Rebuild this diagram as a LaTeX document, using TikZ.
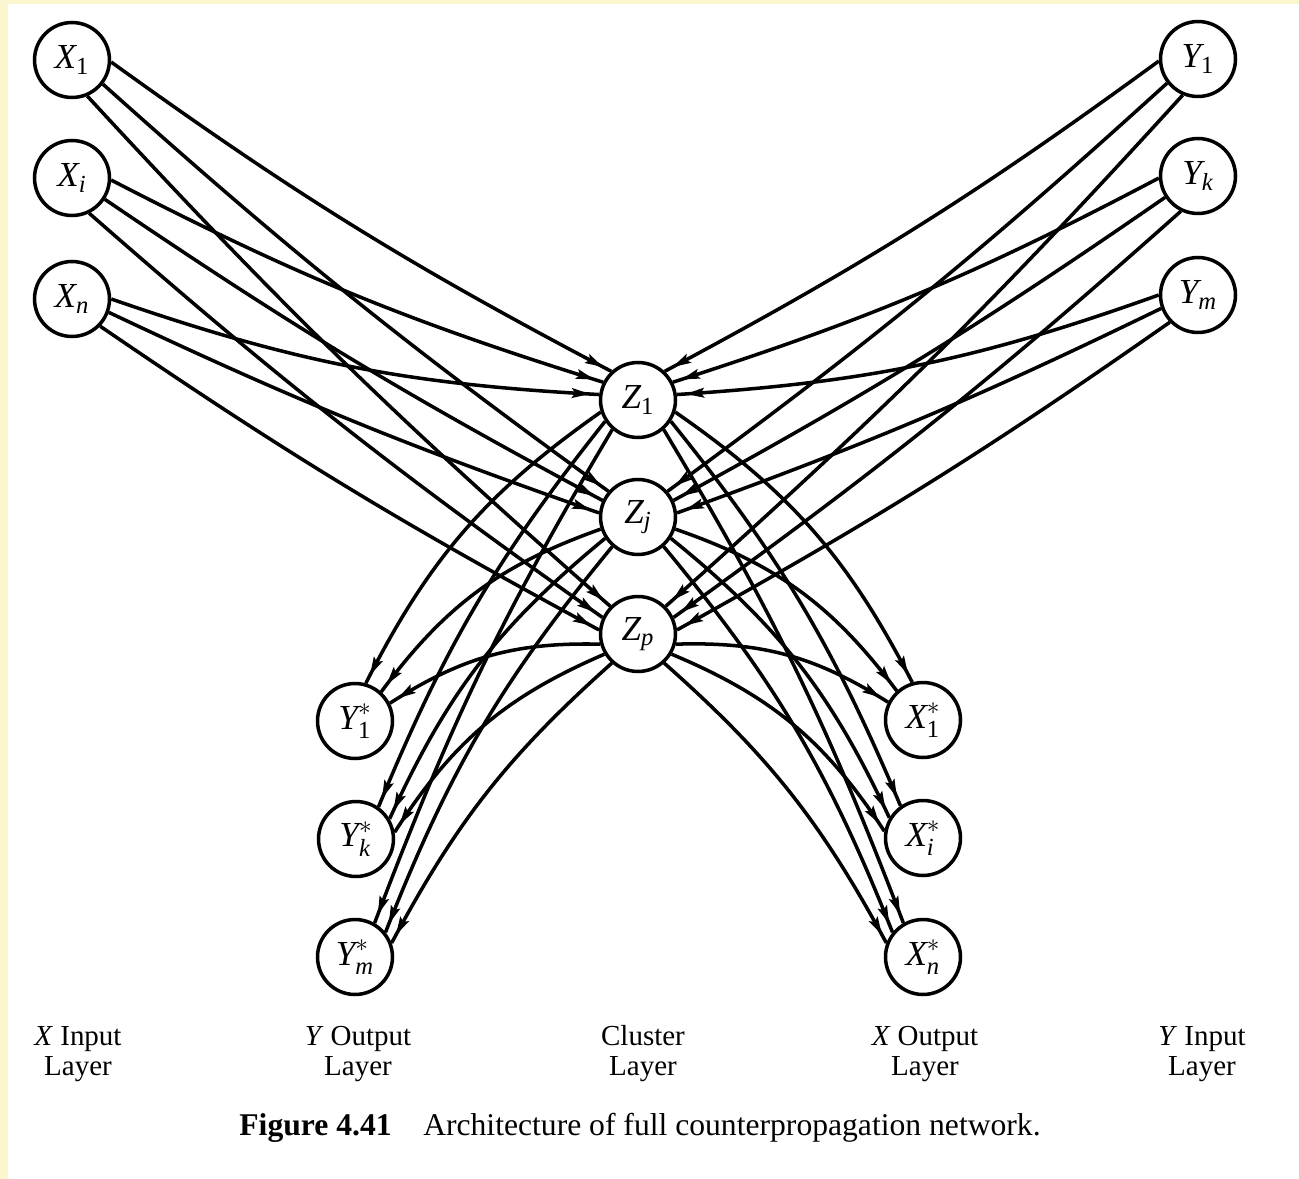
\documentclass[tikz,border=0pt]{standalone}
\usepackage{fontspec}
\usepackage{amsmath}
\setmainfont{Liberation Serif}
\usetikzlibrary{arrows.meta,decorations.markings}
\definecolor{scanyellow}{RGB}{252,246,206}
\tikzset{
  unit/.style={circle, draw, line width=2pt, minimum size=1.5cm, inner sep=0pt, font=\fontsize{20}{23}\selectfont},
  link/.style={line width=2pt, postaction={decorate},
    decoration={markings, mark=at position -0.18cm with {\arrow{Stealth[length=0.36cm,width=0.19cm,inset=0.06cm]}}}},
  lab/.style={align=center, font=\fontsize{16.5}{17}\selectfont},
}
\begin{document}
\begin{tikzpicture}[x=0.02cm,y=0.02cm]
\useasboundingbox (0,0) rectangle (1299,-1179);
\fill[white] (0,0) rectangle (1299,-1179);
\fill[scanyellow] (0,0) rectangle (8,-1179);
\fill[scanyellow] (0,0) rectangle (1299,-4);

% input layers
\node[unit] (X1) at (72,-60)  {$\textit{X}_{\textrm{1}}$};
\node[unit] (Xi) at (72,-178) {$\textit{X}_{\textit{i}}$};
\node[unit] (Xn) at (72,-299) {$\textit{X}_{\textit{n}}$};
\node[unit] (Y1) at (1198,-59)  {$\textit{Y}_{\textrm{1}}$};
\node[unit] (Yk) at (1198,-176) {$\textit{Y}_{\textit{k}}$};
\node[unit] (Ym) at (1198,-295) {$\textit{Y}_{\textit{m}}$};
% cluster layer
\node[unit] (Z1) at (638,-400) {$\textit{Z}_{\textrm{1}}$};
\node[unit] (Zj) at (638,-517) {$\textit{Z}_{\textit{j}}$};
\node[unit] (Zp) at (638,-634) {$\textit{Z}_{\textit{p}}$};
% output layers
\node[unit] (Y1s) at (355,-721) {$\textit{Y}_{\textrm{1}}^{*}$};
\node[unit] (Yks) at (356,-839) {$\textit{Y}_{\textit{k}}^{*}$};
\node[unit] (Yms) at (355,-957) {$\textit{Y}_{\textit{m}}^{*}$};
\node[unit] (X1s) at (923,-720) {$\textit{X}_{\textrm{1}}^{*}$};
\node[unit] (Xis) at (923,-838) {$\textit{X}_{\textit{i}}^{*}$};
\node[unit] (Xns) at (923,-957) {$\textit{X}_{\textit{n}}^{*}$};

% X inputs -> cluster
\foreach \a/\b/\c/\d/\e in {X1/357/Z1/133/4, Xi/357/Z1/153/5, Xn/0/Z1/172/8,
  X1/322/Zj/139/3, Xi/327/Zj/155/3, Xn/340/Zj/174/3,
  X1/293/Zp/135/3, Xi/296/Zp/155/3, Xn/316/Zp/174/3}
  \draw[link] (\a.\b) to[bend right=\e] (\c.\d);
% Y inputs -> cluster
\foreach \a/\b/\c/\d/\e in {Y1/183/Z1/47/4, Yk/183/Z1/27/5, Ym/180/Z1/8/8,
  Y1/218/Zj/41/3, Yk/213/Zj/25/3, Ym/200/Zj/6/3,
  Y1/247/Zp/45/3, Yk/244/Zp/25/3, Ym/224/Zp/6/3}
  \draw[link] (\a.\b) to[bend left=\e] (\c.\d);
% cluster -> Y outputs
\foreach \a/\b/\c/\d/\e in {Z1/198/Y1s/74/14, Z1/213/Yks/55/8, Z1/229/Yms/60/5,
  Zj/198/Y1s/48/17, Zj/213/Yks/31/13, Zj/229/Yms/39/9,
  Zp/195/Y1s/27/17, Zp/211/Yks/10/17, Zp/228/Yms/21/10}
  \draw[link] (\a.\b) to[bend right=\e] (\c.\d);
% cluster -> X outputs
\foreach \a/\b/\c/\d/\e in {Z1/342/X1s/106/14, Z1/327/Xis/125/8, Z1/311/Xns/120/5,
  Zj/342/X1s/132/17, Zj/327/Xis/149/13, Zj/311/Xns/141/9,
  Zp/345/X1s/153/17, Zp/329/Xis/170/17, Zp/312/Xns/159/10}
  \draw[link] (\a.\b) to[bend left=\e] (\c.\d);

% layer labels
\node[lab] (L1) at (78,-1053)   {\strut\textit{X} Input\\Layer};
\node[lab] (L2) at (358,-1053)  {\strut\textit{Y} Output\\Layer};
\node[lab] (L3) at (643,-1053)  {\strut Cluster\\Layer};
\node[lab] (L4) at (925,-1053)  {\strut\textit{X} Output\\Layer};
\node[lab] (L5) at (1202,-1053) {\strut\textit{Y} Input\\Layer};
% caption
\node[font=\fontsize{18}{21}\selectfont] (cap) at (640,-1128)
  {\textbf{Figure 4.41}\quad Architecture of full counterpropagation network.};
\end{tikzpicture}
\end{document}
